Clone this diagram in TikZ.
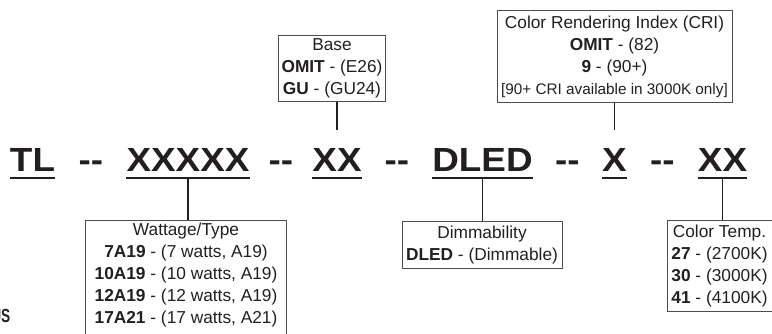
\documentclass[tikz,border=0pt]{standalone}
\usepackage{fontspec}
\setmainfont{Liberation Sans}
\newfontfamily\narrowfont{Liberation Sans}[FakeStretch=0.72]
\newfontfamily\codefont{Liberation Sans}[FakeStretch=1.1]
\definecolor{ink}{HTML}{231F20}
\definecolor{boxgray}{HTML}{4D4D4D}

\begin{document}
\begin{tikzpicture}[x=1pt,y=-1pt]
        \tikzstyle{every node}=[inner sep=0pt, text=ink]
        \tikzstyle{code}=[font=\fontsize{33.5}{36}\selectfont\codefont\bfseries, anchor=base]
        \tikzstyle{info}=[draw=boxgray, line width=0.9pt, align=center, inner sep=3pt, anchor=north, font=\fontsize{17.3}{22}\selectfont]
        \tikzstyle{link}=[draw=ink, line width=1.3pt]
        \tikzstyle{uline}=[draw=ink, line width=1.6pt]
        \useasboundingbox (0,0) rectangle (772,333);

        % catalogue number
        \node [code] (tl) at (32.5,171) {TL};
        \node [code] (ww) at (188,171) {XXXXX};
        \node [code] (bb) at (337,171) {XX};
        \node [code] (dd) at (482.5,171) {DLED};
        \node [code] (cc) at (614.5,171) {X};
        \node [code] (tt) at (722.5,171) {XX};
        \path (tl.base east) -- node [code] {-{}-} (ww.base west);
        \path (ww.base east) -- node [code] {-{}-} (bb.base west);
        \path (bb.base east) -- node [code] {-{}-} (dd.base west);
        \path (dd.base east) -- node [code] {-{}-} (cc.base west);
        \path (cc.base east) -- node [code] {-{}-} (tt.base west);
        \foreach \n in {tl,ww,bb,dd,cc,tt}
            \draw [uline] ([yshift=-7pt]\n.base west) -- ([yshift=-7pt]\n.base east);

        % option boxes
        \node [info, minimum width=106, minimum height=66] (basebox) at (332,35) {Base\\ \textbf{OMIT} - (E26)\\ \textbf{GU} - (GU24)};
        \node [info, minimum width=235, minimum height=92] (cribox) at (614.5,10) {Color Rendering Index (CRI)\\ \textbf{OMIT} - (82)\\ \textbf{9} - (90+)\\ {\fontsize{15.3}{22}\selectfont [90+ CRI available in 3000K only]}};
        \node [info, draw=none, minimum width=200] (wattbox) at (186,220) {Wattage/Type\\ \textbf{7A19} - (7 watts, A19)\\ \textbf{10A19} - (10 watts, A19)\\ \textbf{12A19} - (12 watts, A19)\\ \textbf{17A21} - (17 watts, A21)};
        \draw [boxgray, line width=0.9pt] ([yshift=-20pt]wattbox.south west) rectangle (wattbox.north east);
        \node [info, minimum width=160, minimum height=47] (dimbox) at (482,221) {Dimmability\\ \textbf{DLED} - (Dimmable)};
        \node [info, minimum width=105, minimum height=91] (tempbox) at (719.5,220) {Color Temp.\\ \textbf{27} - (2700K)\\ \textbf{30} - (3000K)\\ \textbf{41} - (4100K)};

        % connectors
        \coordinate (wwu) at ([yshift=-7pt]ww.base);
        \coordinate (ddu) at ([yshift=-7pt]dd.base);
        \coordinate (ttu) at ([yshift=-7pt]tt.base);
        \coordinate (bbt) at ([yshift=18pt]bb.north);
        \coordinate (cct) at ([yshift=18pt]cc.north);
        \draw [link] (wwu) -- (wwu |- wattbox.north);
        \draw [link] (ddu) -- (ddu |- dimbox.north);
        \draw [link] (ttu) -- (ttu |- tempbox.north);
        \draw [link] (bbt |- basebox.south) -- (bbt);
        \draw [link] (cct |- cribox.south) -- (cct);

        \node [font=\fontsize{19}{20}\selectfont\narrowfont\bfseries, anchor=base east] (us) at (10.5,322) {US};
    \end{tikzpicture}
\end{document}
